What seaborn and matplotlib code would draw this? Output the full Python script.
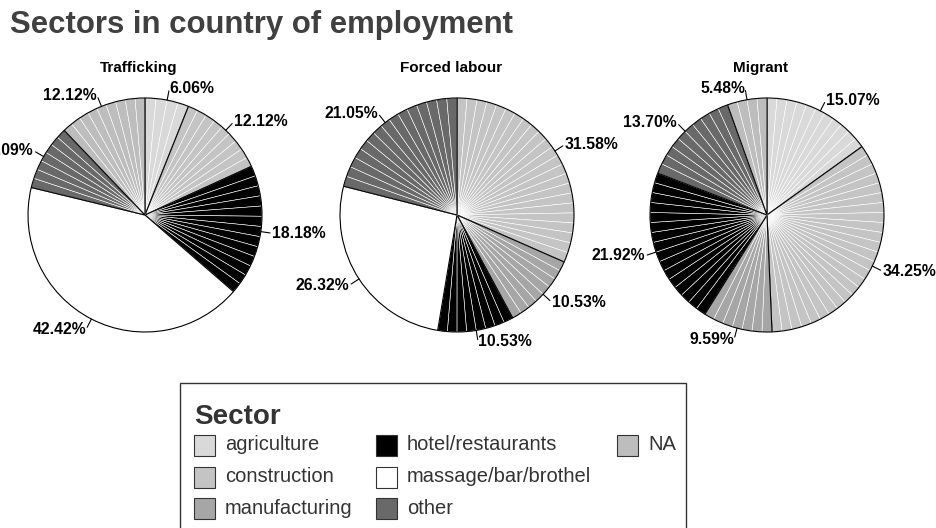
import numpy as np
import matplotlib
matplotlib.use("Agg")
import matplotlib.pyplot as plt
from matplotlib.patches import Wedge, Rectangle
import seaborn as sns

# sectors and their fill colours
sectors = ["agriculture", "construction", "manufacturing", "hotel/restaurants",
           "massage/bar/brothel", "other", "NA"]
sector_colors = ["#d9d9d9", "#c4c4c4", "#a6a6a6", "#000000", "#ffffff", "#696969", "#bdbdbd"]

# percentages per group (order of slices, clockwise from 12 o'clock)
groups = ["Trafficking", "Forced labour", "Migrant"]
trafficking_sectors = ["agriculture", "construction", "hotel/restaurants", "massage/bar/brothel", "other", "NA"]
trafficking_pct = [6.06, 12.12, 18.18, 42.42, 9.09, 12.12]
forced_sectors = ["construction", "manufacturing", "hotel/restaurants", "massage/bar/brothel", "other"]
forced_pct = [31.58, 10.53, 10.53, 26.32, 21.05]
migrant_sectors = ["agriculture", "construction", "manufacturing", "hotel/restaurants", "other", "NA"]
migrant_pct = [15.07, 34.25, 9.59, 21.92, 13.70, 5.48]

sns.set_style("white")
plt.rcParams['font.family'] = ['Liberation Sans', 'DejaVu Sans']

color_of = dict(zip(sectors, sector_colors))
fig = plt.figure(figsize=(9.36, 5.28), dpi=100)
W, H = 936, 528

centers = [(145, 215), (457, 215), (767, 215)]
R = 117
box = 300
data = [(trafficking_sectors, trafficking_pct), (forced_sectors, forced_pct), (migrant_sectors, migrant_pct)]

for (cx, cy), name, (secs, pct) in zip(centers, groups, data):
    ax = fig.add_axes([(cx - box / 2) / W, 1 - (cy + box / 2) / H, box / W, box / H])
    lim = box / 2 / R
    ax.set_xlim(-lim, lim)
    ax.set_ylim(-lim, lim)
    ax.set_aspect("equal")
    ax.axis("off")
    start = 90.0
    for s, p in zip(secs, pct):
        span = p / 100 * 360
        # thin white striping inside each slice, ggplot-style
        n_sub = max(1, int(round(span / 5)))
        for k in range(n_sub):
            a1 = start - span * (k + 1) / n_sub
            a2 = start - span * k / n_sub
            ax.add_patch(Wedge((0, 0), 1, a1, a2, facecolor=color_of[s],
                               edgecolor="white", linewidth=0.4))
        ax.add_patch(Wedge((0, 0), 1, start - span, start, facecolor="none",
                           edgecolor="black", linewidth=0.8))
        mid = np.deg2rad(start - span / 2)
        dx, dy = np.cos(mid), np.sin(mid)
        ax.plot([dx, 1.08 * dx], [dy, 1.08 * dy], color="black", lw=0.8)
        ha = "left" if dx >= 0 else "right"
        ax.text(1.1 * dx, 1.1 * dy, f"{p:.2f}%", ha=ha, va="center",
                fontsize=11.3, fontweight="bold", color="black")
        start -= span
    fig.text((cx - 6) / W, 1 - 68 / H, name, ha="center", va="center",
             fontsize=11, fontweight="bold", color="black")

fig.text(10 / W, 1 - 33 / H, "Sectors in country of employment", ha="left", va="baseline",
         fontsize=22.4, fontweight="bold", color="#404040")

# legend box, drawn in pixel coordinates on an overlay axes
lax = fig.add_axes([0, 0, 1, 1], zorder=-1)
lax.set_xlim(0, W)
lax.set_ylim(H, 0)
lax.axis("off")
lax.add_patch(Rectangle((180, 383), 506, 160, facecolor="white", edgecolor="#333333", lw=1.0))
lax.text(194, 417, "Sector", ha="left", va="center", fontsize=20, fontweight="bold", color="#333333")
col_x = [194, 376, 617]
row_y = [445, 477, 508]
key = 21
for i, (s, c) in enumerate(zip(sectors, sector_colors)):
    x0, y0 = col_x[i // 3], row_y[i % 3]
    lax.add_patch(Rectangle((x0, y0 - key / 2), key, key, facecolor=c, edgecolor="#333333", lw=0.8))
    lax.text(x0 + key + 10, y0, s, ha="left", va="center", fontsize=14.5, color="#333333")

fig.savefig("out.png", dpi=100)
